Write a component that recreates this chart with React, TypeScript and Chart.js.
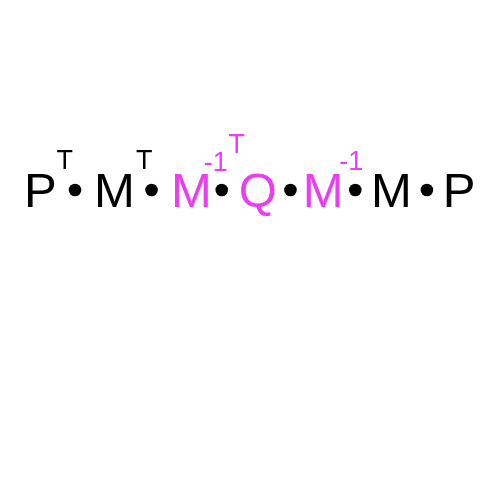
import React, { useEffect, useRef } from "react";
import { Chart, registerables } from "chart.js";

Chart.register(...registerables);

// Factors of the product P^T · M^T · M^-1 · Q^T · M^-1 · M · P
const symbols = ["P", "M", "M", "Q", "M", "M", "P"];
const symbolX = [35, 111, 190, 258, 325, 395, 464.5];
const symbolBaseline = [206, 206, 206, 206, 206, 206, 206];
const highlighted = [false, false, true, true, true, false, false];

// Exponents (left edge, baseline)
const exponents = ["T", "T", "-1", "T", "-1"];
const exponentX = [51.5, 133, 202.5, 228, 341.5];
const exponentBaseline = [167, 167, 169, 151, 168];
const exponentHighlighted = [false, false, true, true, true];

// Multiplication dots
const dotX = [70.5, 149, 221, 291.5, 358, 431.5];
const dotY = [188.5, 188.5, 188.5, 188.5, 188.5, 188.5];

const BLACK = "#000000";
const MAGENTA = "#ea3ff0";

const textPlugin = {
  id: "factorText",
  afterDatasetsDraw(chart: any) {
    const ctx = chart.ctx;
    ctx.save();
    const symMeta = chart.getDatasetMeta(1);
    ctx.font = '49px "Liberation Sans", Arial, sans-serif';
    ctx.textAlign = "center";
    ctx.textBaseline = "alphabetic";
    symMeta.data.forEach((el: any, i: number) => {
      ctx.fillStyle = highlighted[i] ? MAGENTA : BLACK;
      ctx.fillText(symbols[i], el.x, el.y);
    });
    const expMeta = chart.getDatasetMeta(2);
    ctx.font = '27px "Liberation Sans", Arial, sans-serif';
    ctx.textAlign = "left";
    expMeta.data.forEach((el: any, i: number) => {
      ctx.fillStyle = exponentHighlighted[i] ? MAGENTA : BLACK;
      ctx.fillText(exponents[i], el.x, el.y);
    });
    ctx.restore();
  },
};

export default function App() {
  const canvasRef = useRef<HTMLCanvasElement | null>(null);

  useEffect(() => {
    if (!canvasRef.current) return;
    const chart = new Chart(canvasRef.current, {
      type: "scatter",
      data: {
        datasets: [
          {
            label: "dots",
            data: dotX.map((x, i) => ({ x, y: dotY[i] })),
            pointRadius: 6.3,
            pointHoverRadius: 6.3,
            backgroundColor: BLACK,
            borderWidth: 0,
          },
          {
            label: "symbols",
            data: symbolX.map((x, i) => ({ x, y: symbolBaseline[i] })),
            pointRadius: 0,
            pointHoverRadius: 0,
          },
          {
            label: "exponents",
            data: exponentX.map((x, i) => ({ x, y: exponentBaseline[i] })),
            pointRadius: 0,
            pointHoverRadius: 0,
          },
        ],
      },
      options: {
        responsive: false,
        animation: false,
        devicePixelRatio: 1,
        layout: { padding: 0 },
        plugins: {
          legend: { display: false },
          tooltip: { enabled: false },
        },
        events: [],
        scales: {
          x: { type: "linear", min: 0, max: 500, display: false },
          y: { type: "linear", min: 0, max: 500, reverse: true, display: false },
        },
      },
      plugins: [textPlugin],
    });
    return () => chart.destroy();
  }, []);

  return (
    <div style={{ position: "absolute", left: 0, top: 0, width: 500, height: 500, background: "#fff" }}>
      <canvas ref={canvasRef} width={500} height={500} style={{ display: "block" }} />
    </div>
  );
}
